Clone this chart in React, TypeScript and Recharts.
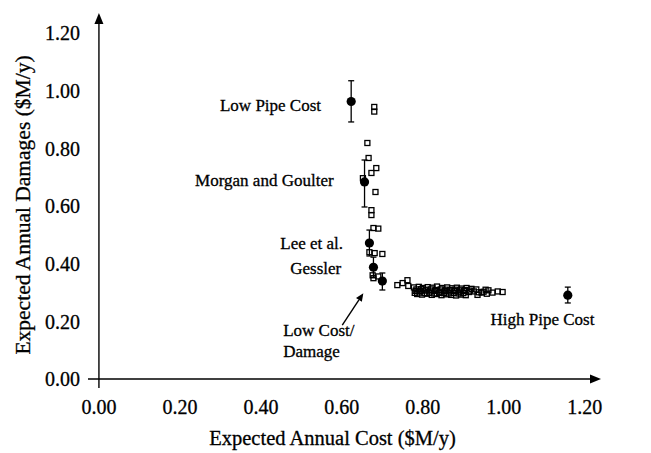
import React from 'react';
import { ScatterChart, Scatter, XAxis, YAxis, ErrorBar, ReferenceLine, ReferenceDot, Label } from 'recharts';

const FONT = '"Liberation Serif", "Times New Roman", serif';

const xTicks = [0, 0.2, 0.4, 0.6, 0.8, 1.0, 1.2];
const yTicks = [0, 0.2, 0.4, 0.6, 0.8, 1.0, 1.2];

// hollow squares: the rest of the trade-off solutions
const upperBranch = [
  { x: 0.680, y: 0.944 }, { x: 0.680, y: 0.928 }, { x: 0.663, y: 0.819 },
  { x: 0.666, y: 0.767 }, { x: 0.685, y: 0.732 }, { x: 0.673, y: 0.715 },
  { x: 0.652, y: 0.697 }, { x: 0.683, y: 0.649 }, { x: 0.673, y: 0.586 },
  { x: 0.673, y: 0.569 }, { x: 0.678, y: 0.524 }, { x: 0.690, y: 0.522 },
  { x: 0.668, y: 0.440 }, { x: 0.681, y: 0.437 }, { x: 0.700, y: 0.434 },
  { x: 0.676, y: 0.360 }, { x: 0.690, y: 0.356 }, { x: 0.678, y: 0.350 },
];

const lowerBranch = [
  { x: 0.737, y: 0.326 }, { x: 0.750, y: 0.333 }, { x: 0.762, y: 0.343 }, { x: 0.764, y: 0.323 },
  { x: 0.778, y: 0.318 }, { x: 0.790, y: 0.320 }, { x: 0.800, y: 0.316 }, { x: 0.812, y: 0.319 },
  { x: 0.824, y: 0.317 }, { x: 0.835, y: 0.321 }, { x: 0.848, y: 0.316 }, { x: 0.860, y: 0.318 },
  { x: 0.872, y: 0.315 }, { x: 0.884, y: 0.317 }, { x: 0.895, y: 0.314 }, { x: 0.908, y: 0.316 },
  { x: 0.920, y: 0.313 }, { x: 0.932, y: 0.311 },
  { x: 0.784, y: 0.311 }, { x: 0.796, y: 0.312 }, { x: 0.808, y: 0.310 }, { x: 0.820, y: 0.311 },
  { x: 0.832, y: 0.309 }, { x: 0.844, y: 0.311 }, { x: 0.856, y: 0.310 }, { x: 0.868, y: 0.309 },
  { x: 0.880, y: 0.310 }, { x: 0.892, y: 0.308 }, { x: 0.904, y: 0.309 }, { x: 0.916, y: 0.307 },
  { x: 0.782, y: 0.306 }, { x: 0.794, y: 0.305 }, { x: 0.806, y: 0.307 }, { x: 0.818, y: 0.304 },
  { x: 0.830, y: 0.306 }, { x: 0.842, y: 0.303 }, { x: 0.854, y: 0.305 }, { x: 0.866, y: 0.304 },
  { x: 0.878, y: 0.306 }, { x: 0.890, y: 0.303 }, { x: 0.902, y: 0.305 }, { x: 0.914, y: 0.302 },
  { x: 0.926, y: 0.304 }, { x: 0.938, y: 0.301 }, { x: 0.950, y: 0.303 },
  { x: 0.780, y: 0.299 }, { x: 0.792, y: 0.300 }, { x: 0.804, y: 0.298 }, { x: 0.816, y: 0.299 },
  { x: 0.828, y: 0.297 }, { x: 0.840, y: 0.299 }, { x: 0.852, y: 0.298 }, { x: 0.864, y: 0.297 },
  { x: 0.876, y: 0.299 }, { x: 0.888, y: 0.297 }, { x: 0.900, y: 0.298 },
  { x: 0.786, y: 0.295 }, { x: 0.798, y: 0.293 }, { x: 0.810, y: 0.296 }, { x: 0.822, y: 0.292 },
  { x: 0.834, y: 0.295 }, { x: 0.846, y: 0.291 }, { x: 0.858, y: 0.294 }, { x: 0.870, y: 0.292 },
  { x: 0.882, y: 0.290 }, { x: 0.894, y: 0.293 }, { x: 0.906, y: 0.291 },
  { x: 0.935, y: 0.292 }, { x: 0.945, y: 0.300 }, { x: 0.955, y: 0.310 }, { x: 0.958, y: 0.296 },
  { x: 0.962, y: 0.308 }, { x: 0.972, y: 0.300 }, { x: 0.985, y: 0.304 }, { x: 0.997, y: 0.302 },
];

// filled circles with error bars: published designs
const designs = [
  { name: 'Low Pipe Cost', x: 0.623, y: 0.963, err: [0.071, 0.072] },
  { name: 'Morgan and Goulter', x: 0.656, y: 0.684, err: [0.087, 0.076] },
  { name: 'Lee et al.', x: 0.668, y: 0.472, err: [0.045, 0.045] },
  { name: 'Gessler', x: 0.678, y: 0.388, err: [0.035, 0.035] },
  { name: 'Low Cost/Damage', x: 0.700, y: 0.340, err: [0.031, 0.028] },
  { name: 'High Pipe Cost', x: 1.158, y: 0.291, err: [0.027, 0.028] },
];

const annotations = [
  { text: 'Low Pipe Cost', x: 0.299, y: 0.950 },
  { text: 'Morgan and Goulter', x: 0.2375, y: 0.690 },
  { text: 'Lee et al.', x: 0.448, y: 0.472 },
  { text: 'Gessler', x: 0.4725, y: 0.385 },
  { text: 'Low Cost/', x: 0.455, y: 0.170 },
  { text: 'Damage', x: 0.455, y: 0.094 },
  { text: 'High Pipe Cost', x: 0.967, y: 0.205 },
];

const pointerLine = [{ x: 0.601, y: 0.187 }, { x: 0.653, y: 0.298 }];

const Square = (props: any) => (
  <rect x={props.cx - 2.5} y={props.cy - 2.5} width={5} height={5} fill="none" stroke="#000" strokeWidth={1.3} />
);

const Dot = (props: any) => <circle cx={props.cx} cy={props.cy} r={4.6} fill="#000" />;

const arrowShape = (len: number, half: number) => (props: any) => {
  const { x1, y1, x2, y2 } = props;
  const a = Math.atan2(y2 - y1, x2 - x1);
  const bx = x2 - len * Math.cos(a);
  const by = y2 - len * Math.sin(a);
  const px = -Math.sin(a) * half;
  const py = Math.cos(a) * half;
  return (
    <g>
      <line x1={x1} y1={y1} x2={bx} y2={by} stroke="#000" strokeWidth={1.4} />
      <polygon points={`${x2},${y2} ${bx + px},${by + py} ${bx - px},${by - py}`} fill="#000" />
    </g>
  );
};

const textShape = (text: string) => (props: any) => (
  <text
    x={props.cx}
    y={props.cy}
    dominantBaseline="central"
    fontFamily={FONT}
    fontSize={17}
    fill="#000"
    stroke="#000"
    strokeWidth={0.3}
  >
    {text}
  </text>
);

const tickStyle = { fontFamily: FONT, fontSize: 20, fill: '#000', stroke: '#000', strokeWidth: 0.3 };

export default function App() {
  return (
    <ScatterChart width={643} height={445} margin={{ top: 5, right: 50, bottom: 35, left: 0 }}>
      <XAxis
        type="number"
        dataKey="x"
        domain={[-0.027, 1.24]}
        ticks={xTicks}
        tickFormatter={(v: number) => v.toFixed(2)}
        axisLine={false}
        tickLine={false}
        tickMargin={6}
        tick={tickStyle}
        height={30}
      >
        <Label
          content={() => (
            <text
              x={324.5}
              y={430}
              textAnchor="middle"
              dominantBaseline="central"
              fontFamily={FONT}
              fontSize={20.5}
              fill="#000"
              stroke="#000"
              strokeWidth={0.3}
            >
              Expected Annual Cost ($M/y)
            </text>
          )}
        />
      </XAxis>
      <YAxis
        type="number"
        dataKey="y"
        domain={[-0.031, 1.27]}
        ticks={yTicks}
        tickFormatter={(v: number) => v.toFixed(2)}
        axisLine={false}
        tickLine={false}
        tick={tickStyle}
        width={80}
      >
        <Label
          content={() => (
            <text
              x={15}
              y={197}
              transform="rotate(-90 15 197)"
              textAnchor="middle"
              dominantBaseline="central"
              fontFamily={FONT}
              fontSize={21.5}
              fill="#000"
              stroke="#000"
              strokeWidth={0.3}
            >
              Expected Annual Damages ($M/y)
            </text>
          )}
        />
      </YAxis>
      <ReferenceLine segment={[{ x: -0.027, y: 0 }, { x: 1.24, y: 0 }]} ifOverflow="visible" shape={arrowShape(11, 4.5)} />
      <ReferenceLine segment={[{ x: 0, y: -0.031 }, { x: 0, y: 1.27 }]} ifOverflow="visible" shape={arrowShape(11, 4.5)} />
      <ReferenceLine segment={pointerLine} ifOverflow="visible" shape={arrowShape(8, 3.5)} />
      <Scatter data={upperBranch} shape={Square} isAnimationActive={false} />
      <Scatter data={lowerBranch} shape={Square} isAnimationActive={false} />
      <Scatter data={designs} shape={Dot} isAnimationActive={false}>
        <ErrorBar dataKey="err" direction="y" width={3} stroke="#000" strokeWidth={1.3} />
      </Scatter>
      {annotations.map((a) => (
        <ReferenceDot key={a.text} x={a.x} y={a.y} r={0} ifOverflow="visible" shape={textShape(a.text)} />
      ))}
    </ScatterChart>
  );
}
